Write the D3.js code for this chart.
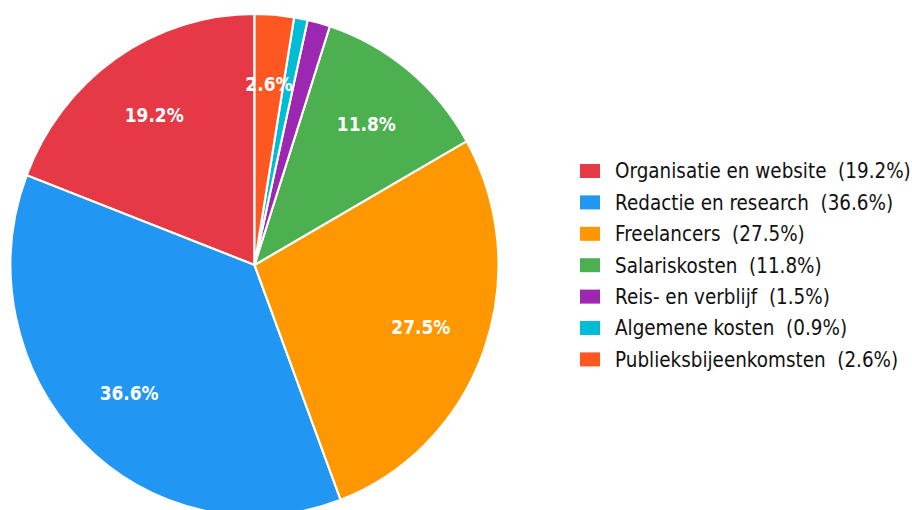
<!DOCTYPE html>
<html>
<head>
<meta charset="utf-8">
<script src="https://cdn.jsdelivr.net/npm/d3@7"></script>
<style>
  body { margin: 0; background: #fff; }
  svg { display: block; }
</style>
</head>
<body>
<div id="chart-area"></div>
<script>
// Datos
var categories = ["Organisatie en website", "Redactie en research", "Freelancers",
                  "Salariskosten", "Reis- en verblijf", "Algemene kosten", "Publieksbijeenkomsten"];
var values = [19.2, 36.6, 27.5, 11.8, 1.5, 0.9, 2.6];
var colors = ["#E63946", "#2196F3", "#FF9800", "#4CAF50", "#9C27B0", "#00BCD4", "#FF5722"];

var width = 912;
var height = 510;
// la imagen original esta algo comprimida en horizontal
var sx = 0.972;
// y el texto algo mas alto que ancho
var textSy = 1.13;
var radius = 251;
var cx = 254.5 / sx;
var cy = 265;

var svg = d3.select("#chart-area")
    .append("svg")
    .attr("width", width)
    .attr("height", height);

var g = svg.append("g")
    .attr("transform", "scale(" + sx + ",1)");

var data = categories.map(function(c, i) {
    return {name: c, value: values[i], color: colors[i]};
});

// pie en sentido antihorario desde arriba
var pie = d3.pie()
    .sort(null)
    .value(function(d) { return d.value; })
    .startAngle(0)
    .endAngle(-2 * Math.PI);

var arc = d3.arc().innerRadius(0).outerRadius(radius);
var labelArc = d3.arc().innerRadius(radius * 0.725).outerRadius(radius * 0.725);

var pieG = g.append("g")
    .attr("transform", "translate(" + cx + "," + cy + ")");

var arcs = pie(data);

pieG.selectAll("path")
    .data(arcs)
    .enter().append("path")
    .attr("d", arc)
    .attr("fill", function(d) { return d.data.color; })
    .attr("stroke", "#fff")
    .attr("stroke-width", 2.2)
    .attr("stroke-linejoin", "round");

// solo se etiquetan las porciones de 2% o mas
pieG.selectAll("text")
    .data(arcs.filter(function(d) { return d.data.value >= 2; }))
    .enter().append("text")
    .attr("transform", function(d) {
        return "translate(" + labelArc.centroid(d) + ") scale(1," + textSy + ")";
    })
    .attr("text-anchor", "middle")
    .attr("dominant-baseline", "central")
    .attr("font-family", "DejaVu Sans")
    .attr("font-weight", "bold")
    .attr("font-size", "17.5px")
    .attr("fill", "#fff")
    .text(function(d) { return d.data.value.toFixed(1) + "%"; });

// Leyenda
var legendX = 580 / sx;
var legendY = 171.5;
var rowH = 31.4;

var legend = g.append("g")
    .attr("class", "legend");

var items = legend.selectAll("g")
    .data(data)
    .enter().append("g")
    .attr("transform", function(d, i) { return "translate(" + legendX + "," + (legendY + i * rowH) + ")"; });

items.append("rect")
    .attr("x", 0)
    .attr("y", -7.5)
    .attr("width", 20 / sx)
    .attr("height", 14)
    .attr("fill", function(d) { return d.color; });

items.append("text")
    .attr("transform", "translate(" + ((615 - 580) / sx) + ",0) scale(1," + textSy + ")")
    .attr("dominant-baseline", "central")
    .attr("font-family", "DejaVu Sans")
    .attr("font-size", "18.9px")
    .attr("fill", "#111")
    .style("white-space", "pre")
    .attr("xml:space", "preserve")
    .text(function(d) { return d.name + "  (" + d.value.toFixed(1) + "%)"; });
</script>
</body>
</html>
